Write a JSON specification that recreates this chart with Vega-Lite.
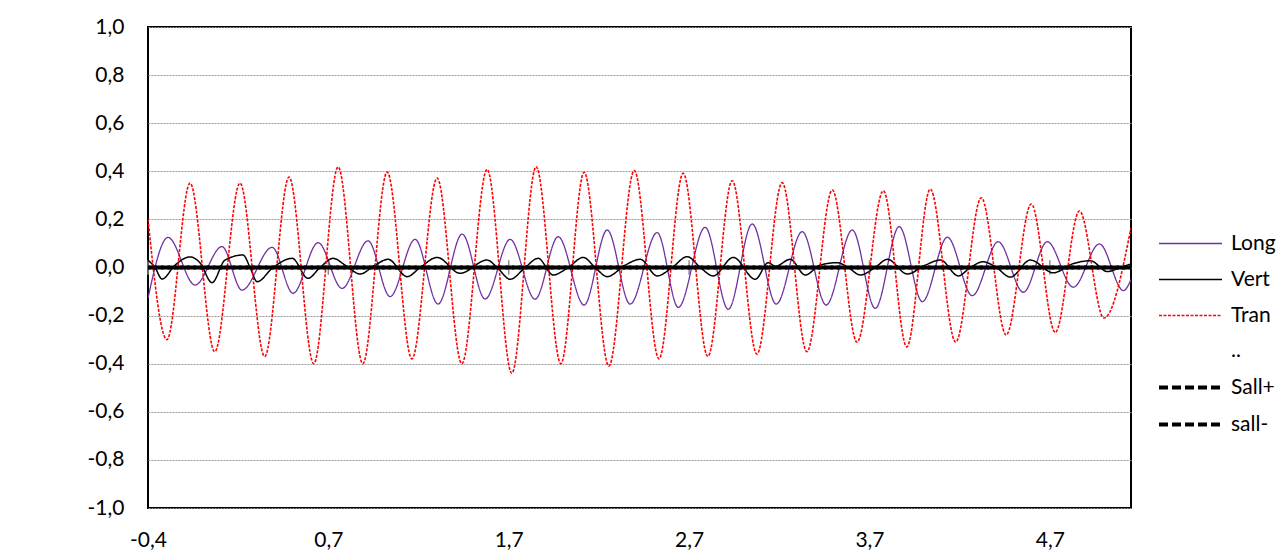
{
  "$schema": "https://vega.github.io/schema/vega-lite/v6.json",
  "width": 983,
  "height": 481,
  "autosize": {"type": "none"},
  "padding": {"left": 148, "top": 27, "right": 154, "bottom": 45},
  "background": "white",
  "config": {
    "locale": {"number": {"decimal": ",", "thousands": ".", "grouping": [3], "currency": ["", " €"], "minus": "-"}},
    "view": {"stroke": "#000000", "strokeWidth": 2},
    "font": "Lato",
    "axis": {"labelFont": "Lato", "labelColor": "#000000"},
    "legend": {"labelFont": "Lato", "labelColor": "#000000"}
  },
  "datasets": {
    "ticks": [{"t": -0.35}, {"t": 0.65}, {"t": 1.65}, {"t": 2.65}, {"t": 3.65}, {"t": 4.65}],
    "series": [
      {"s": "Long", "t": -0.350, "v": -0.127}, {"s": "Long", "t": -0.239, "v": 0.125}, {"s": "Long", "t": -0.089, "v": -0.073}, {"s": "Long", "t": 0.060, "v": 0.087},
      {"s": "Long", "t": 0.171, "v": -0.094}, {"s": "Long", "t": 0.338, "v": 0.084}, {"s": "Long", "t": 0.454, "v": -0.107}, {"s": "Long", "t": 0.593, "v": 0.103},
      {"s": "Long", "t": 0.726, "v": -0.087}, {"s": "Long", "t": 0.870, "v": 0.111}, {"s": "Long", "t": 0.992, "v": -0.121}, {"s": "Long", "t": 1.131, "v": 0.117},
      {"s": "Long", "t": 1.258, "v": -0.152}, {"s": "Long", "t": 1.392, "v": 0.139}, {"s": "Long", "t": 1.519, "v": -0.131}, {"s": "Long", "t": 1.658, "v": 0.117},
      {"s": "Long", "t": 1.796, "v": -0.132}, {"s": "Long", "t": 1.924, "v": 0.128}, {"s": "Long", "t": 2.068, "v": -0.156}, {"s": "Long", "t": 2.196, "v": 0.156},
      {"s": "Long", "t": 2.323, "v": -0.152}, {"s": "Long", "t": 2.473, "v": 0.145}, {"s": "Long", "t": 2.590, "v": -0.166}, {"s": "Long", "t": 2.739, "v": 0.167},
      {"s": "Long", "t": 2.867, "v": -0.174}, {"s": "Long", "t": 3.000, "v": 0.181}, {"s": "Long", "t": 3.133, "v": -0.152}, {"s": "Long", "t": 3.277, "v": 0.149},
      {"s": "Long", "t": 3.410, "v": -0.156}, {"s": "Long", "t": 3.555, "v": 0.156}, {"s": "Long", "t": 3.682, "v": -0.170}, {"s": "Long", "t": 3.815, "v": 0.170},
      {"s": "Long", "t": 3.943, "v": -0.142}, {"s": "Long", "t": 4.082, "v": 0.126}, {"s": "Long", "t": 4.220, "v": -0.117}, {"s": "Long", "t": 4.364, "v": 0.107},
      {"s": "Long", "t": 4.503, "v": -0.103}, {"s": "Long", "t": 4.636, "v": 0.107}, {"s": "Long", "t": 4.780, "v": -0.082}, {"s": "Long", "t": 4.925, "v": 0.098},
      {"s": "Long", "t": 5.058, "v": -0.096}, {"s": "Long", "t": 5.100, "v": -0.050},

      {"s": "Vert", "t": -0.350, "v": 0.030}, {"s": "Vert", "t": -0.311, "v": 0.000}, {"s": "Vert", "t": -0.272, "v": -0.048}, {"s": "Vert", "t": -0.200, "v": 0.010},
      {"s": "Vert", "t": -0.117, "v": 0.044}, {"s": "Vert", "t": -0.062, "v": 0.020}, {"s": "Vert", "t": 0.005, "v": -0.063}, {"s": "Vert", "t": 0.077, "v": 0.031},
      {"s": "Vert", "t": 0.177, "v": 0.052}, {"s": "Vert", "t": 0.216, "v": 0.000}, {"s": "Vert", "t": 0.255, "v": -0.059}, {"s": "Vert", "t": 0.343, "v": 0.000},
      {"s": "Vert", "t": 0.449, "v": 0.038}, {"s": "Vert", "t": 0.537, "v": -0.045}, {"s": "Vert", "t": 0.604, "v": 0.000}, {"s": "Vert", "t": 0.676, "v": 0.038},
      {"s": "Vert", "t": 0.743, "v": 0.010}, {"s": "Vert", "t": 0.826, "v": -0.027}, {"s": "Vert", "t": 0.909, "v": 0.010}, {"s": "Vert", "t": 0.981, "v": 0.034},
      {"s": "Vert", "t": 1.087, "v": -0.038}, {"s": "Vert", "t": 1.159, "v": 0.000}, {"s": "Vert", "t": 1.253, "v": 0.042}, {"s": "Vert", "t": 1.380, "v": -0.024},
      {"s": "Vert", "t": 1.530, "v": 0.031}, {"s": "Vert", "t": 1.586, "v": 0.000}, {"s": "Vert", "t": 1.658, "v": -0.049}, {"s": "Vert", "t": 1.741, "v": 0.000},
      {"s": "Vert", "t": 1.813, "v": 0.038}, {"s": "Vert", "t": 1.896, "v": -0.031}, {"s": "Vert", "t": 1.980, "v": 0.000}, {"s": "Vert", "t": 2.063, "v": 0.042},
      {"s": "Vert", "t": 2.129, "v": 0.000}, {"s": "Vert", "t": 2.196, "v": -0.038}, {"s": "Vert", "t": 2.296, "v": 0.010}, {"s": "Vert", "t": 2.379, "v": 0.034},
      {"s": "Vert", "t": 2.473, "v": -0.035}, {"s": "Vert", "t": 2.556, "v": 0.000}, {"s": "Vert", "t": 2.640, "v": 0.045}, {"s": "Vert", "t": 2.712, "v": 0.000},
      {"s": "Vert", "t": 2.784, "v": -0.035}, {"s": "Vert", "t": 2.895, "v": 0.042}, {"s": "Vert", "t": 3.017, "v": -0.049}, {"s": "Vert", "t": 3.089, "v": 0.020},
      {"s": "Vert", "t": 3.128, "v": 0.005}, {"s": "Vert", "t": 3.211, "v": 0.034}, {"s": "Vert", "t": 3.294, "v": -0.031}, {"s": "Vert", "t": 3.377, "v": 0.010},
      {"s": "Vert", "t": 3.471, "v": 0.020}, {"s": "Vert", "t": 3.532, "v": 0.000}, {"s": "Vert", "t": 3.599, "v": -0.031}, {"s": "Vert", "t": 3.682, "v": 0.000},
      {"s": "Vert", "t": 3.749, "v": 0.034}, {"s": "Vert", "t": 3.860, "v": -0.027}, {"s": "Vert", "t": 3.960, "v": 0.010}, {"s": "Vert", "t": 4.043, "v": 0.031},
      {"s": "Vert", "t": 4.143, "v": -0.035}, {"s": "Vert", "t": 4.209, "v": 0.000}, {"s": "Vert", "t": 4.281, "v": 0.024}, {"s": "Vert", "t": 4.353, "v": 0.000},
      {"s": "Vert", "t": 4.431, "v": -0.040}, {"s": "Vert", "t": 4.542, "v": 0.031}, {"s": "Vert", "t": 4.669, "v": -0.022}, {"s": "Vert", "t": 4.775, "v": 0.015},
      {"s": "Vert", "t": 4.875, "v": 0.028}, {"s": "Vert", "t": 4.969, "v": -0.017}, {"s": "Vert", "t": 5.041, "v": 0.000}, {"s": "Vert", "t": 5.100, "v": 0.015},

      {"s": "Tran", "t": -0.350, "v": 0.200}, {"s": "Tran", "t": -0.245, "v": -0.300}, {"s": "Tran", "t": -0.117, "v": 0.351}, {"s": "Tran", "t": 0.020, "v": -0.350},
      {"s": "Tran", "t": 0.160, "v": 0.351}, {"s": "Tran", "t": 0.297, "v": -0.370}, {"s": "Tran", "t": 0.432, "v": 0.376}, {"s": "Tran", "t": 0.569, "v": -0.400},
      {"s": "Tran", "t": 0.704, "v": 0.418}, {"s": "Tran", "t": 0.841, "v": -0.400}, {"s": "Tran", "t": 0.976, "v": 0.397}, {"s": "Tran", "t": 1.113, "v": -0.380},
      {"s": "Tran", "t": 1.253, "v": 0.372}, {"s": "Tran", "t": 1.390, "v": -0.400}, {"s": "Tran", "t": 1.530, "v": 0.408}, {"s": "Tran", "t": 1.667, "v": -0.440},
      {"s": "Tran", "t": 1.802, "v": 0.419}, {"s": "Tran", "t": 1.939, "v": -0.400}, {"s": "Tran", "t": 2.068, "v": 0.396}, {"s": "Tran", "t": 2.205, "v": -0.410},
      {"s": "Tran", "t": 2.346, "v": 0.403}, {"s": "Tran", "t": 2.483, "v": -0.380}, {"s": "Tran", "t": 2.617, "v": 0.392}, {"s": "Tran", "t": 2.754, "v": -0.370},
      {"s": "Tran", "t": 2.889, "v": 0.361}, {"s": "Tran", "t": 3.026, "v": -0.360}, {"s": "Tran", "t": 3.166, "v": 0.353}, {"s": "Tran", "t": 3.303, "v": -0.350},
      {"s": "Tran", "t": 3.444, "v": 0.322}, {"s": "Tran", "t": 3.581, "v": -0.310}, {"s": "Tran", "t": 3.727, "v": 0.319}, {"s": "Tran", "t": 3.857, "v": -0.330},
      {"s": "Tran", "t": 3.987, "v": 0.326}, {"s": "Tran", "t": 4.128, "v": -0.310}, {"s": "Tran", "t": 4.270, "v": 0.290}, {"s": "Tran", "t": 4.408, "v": -0.280},
      {"s": "Tran", "t": 4.547, "v": 0.264}, {"s": "Tran", "t": 4.680, "v": -0.270}, {"s": "Tran", "t": 4.814, "v": 0.235}, {"s": "Tran", "t": 4.950, "v": -0.210},
      {"s": "Tran", "t": 5.100, "v": 0.165},

      {"s": "Sall+", "t": -0.350, "v": 0.0}, {"s": "Sall+", "t": 5.100, "v": 0.0},
      {"s": "sall-", "t": -0.350, "v": 0.0}, {"s": "sall-", "t": 5.100, "v": 0.0}
    ]
  },
  "layer": [
    {
      "data": {"name": "ticks"},
      "mark": {"type": "rule", "color": "#8c8c8c", "strokeWidth": 1.5},
      "encoding": {
        "x": {"field": "t", "type": "quantitative", "scale": {"domain": [-0.35, 5.1], "nice": false, "zero": false}},
        "y": {"datum": -0.03, "type": "quantitative"},
        "y2": {"datum": 0.03}
      }
    },
    {
      "data": {"name": "series"},
      "encoding": {
        "x": {
          "field": "t", "type": "quantitative",
          "scale": {"domain": [-0.35, 5.1], "nice": false, "zero": false},
          "axis": {
            "title": null, "values": [-0.35, 0.65, 1.65, 2.65, 3.65, 4.65],
            "labelExpr": "format(datum.value < 0 ? datum.value - 0.01 : datum.value + 0.01, '.1f')",
            "grid": false, "ticks": false, "domain": false, "labelFlush": false, "labelOverlap": false,
            "labelPadding": 21, "labelFontSize": 21
          }
        },
        "y": {
          "field": "v", "type": "quantitative",
          "scale": {"domain": [-1, 1], "nice": false, "zero": false},
          "axis": {
            "title": null, "values": [-1, -0.8, -0.6, -0.4, -0.2, 0, 0.2, 0.4, 0.6, 0.8, 1],
            "format": ".1f", "grid": true, "gridColor": "#999999", "gridDash": [2, 1], "gridWidth": 1,
            "ticks": false, "domain": false, "labelPadding": 24, "labelFontSize": 21
          }
        },
        "color": {
          "field": "s", "type": "ordinal",
          "scale": {"domain": ["Long", "Vert", "Tran", "..", "Sall+", "sall-"], "range": ["#7030a0", "#000000", "#ff0000", "transparent", "#000000", "#000000"]},
          "legend": {
            "orient": "none", "legendX": 1009, "legendY": 205, "title": null, "padding": 0,
            "symbolType": "M-1,0H5", "symbolSize": 441, "labelFontSize": 21, "labelOffset": 49, "rowPadding": 14,
            "labelExpr": "datum.label == '..' ? '\u00a0\u00a0\u00a0\u00a0\u00a0..' : datum.label"
          }
        },
        "strokeDash": {
          "field": "s", "type": "ordinal",
          "scale": {"domain": ["Long", "Vert", "Tran", "..", "Sall+", "sall-"], "range": [[1, 0], [1, 0], [3, 1.5], [1, 0], [9, 4], [9, 4]]}
        },
        "strokeWidth": {
          "field": "s", "type": "ordinal",
          "scale": {"type": "ordinal", "domain": ["Long", "Vert", "Tran", "..", "Sall+", "sall-"], "range": [1.3, 1.5, 1.6, 1, 4, 4]}
        }
      },
      "layer": [
        {"transform": [{"filter": "datum.s == 'Long'"}], "mark": {"type": "line", "interpolate": "monotone", "clip": true}},
        {"transform": [{"filter": "datum.s == 'Vert'"}], "mark": {"type": "line", "interpolate": "monotone", "clip": true}},
        {"transform": [{"filter": "datum.s == 'Tran'"}], "mark": {"type": "line", "interpolate": "monotone", "clip": true}},
        {"transform": [{"filter": "datum.s == 'Sall+'"}], "mark": {"type": "line", "clip": true}},
        {"transform": [{"filter": "datum.s == 'sall-'"}], "mark": {"type": "line", "clip": true, "strokeDashOffset": 6.5}}
      ]
    }
  ]
}
